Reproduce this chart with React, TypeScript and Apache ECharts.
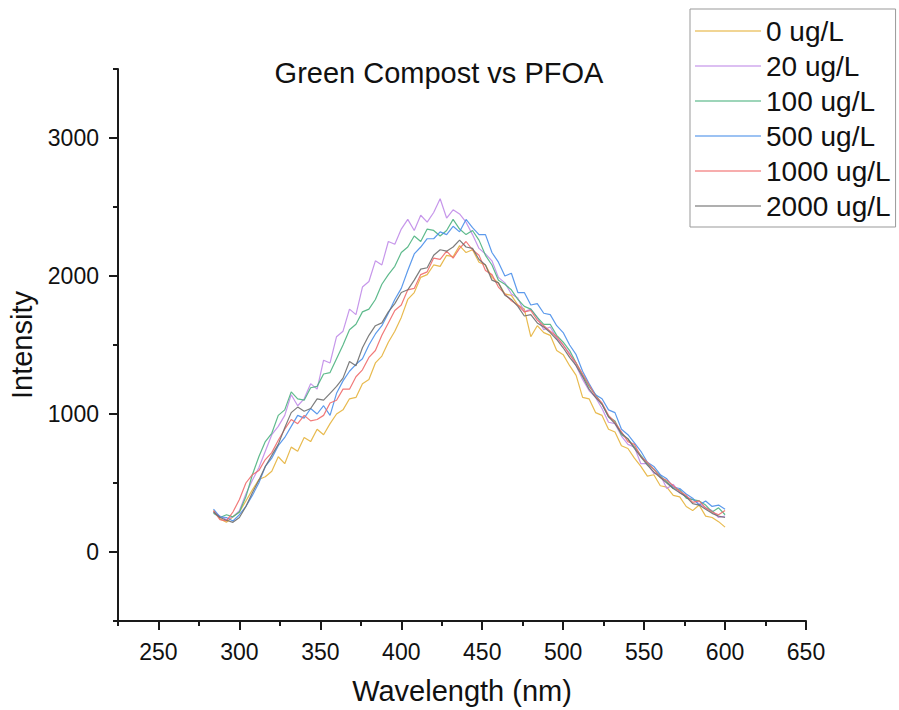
import React, { useEffect, useRef } from "react";
import * as echarts from "echarts";

const FONT = "'Liberation Sans', Arial, sans-serif";

const wavelengths: number[] = [
  284, 288, 292, 296, 300, 304, 308, 312, 316, 320,
  324, 328, 332, 336, 340, 344, 348, 352, 356, 360,
  364, 368, 372, 376, 380, 384, 388, 392, 396, 400,
  404, 408, 412, 416, 420, 424, 428, 432, 436, 440,
  444, 448, 452, 456, 460, 464, 468, 472, 476, 480,
  484, 488, 492, 496, 500, 504, 508, 512, 516, 520,
  524, 528, 532, 536, 540, 544, 548, 552, 556, 560,
  564, 568, 572, 576, 580, 584, 588, 592, 596, 600,
];

const seriesNames: string[] = ["0 ug/L", "20 ug/L", "100 ug/L", "500 ug/L", "1000 ug/L", "2000 ug/L"];
const seriesColors: string[] = ["#E6B33C", "#C08BE8", "#4DB37F", "#4A8FEA", "#F06A6A", "#6E6E6E"];

const conc0: number[] = [
  300, 240, 215, 255, 290, 370, 450, 525, 545, 585,
  690, 640, 760, 730, 830, 800, 890, 850, 930, 1000,
  1030, 1110, 1120, 1220, 1250, 1370, 1420, 1520, 1600, 1700,
  1830, 1880, 1990, 2010, 2080, 2070, 2150, 2140, 2220, 2170,
  2190, 2100, 2080, 1990, 1950, 1870, 1860, 1790, 1760, 1560,
  1640, 1590, 1570, 1460, 1430, 1350, 1280, 1120, 1110, 1010,
  990, 890, 870, 770, 750, 680, 620, 550, 560, 480,
  470, 410, 400, 330, 300, 340, 260, 250, 220, 180,
];
const conc20: number[] = [
  290, 260, 235, 255, 300, 420, 520, 610, 730, 850,
  910, 990, 1140, 1060, 1110, 1220, 1180, 1390, 1370, 1560,
  1600, 1760, 1720, 1920, 1960, 2110, 2080, 2250, 2230, 2340,
  2410, 2330, 2440, 2390, 2460, 2560, 2420, 2480, 2450, 2390,
  2300, 2200, 2160, 2110, 1990, 1950, 1870, 1840, 1740, 1760,
  1700, 1610, 1630, 1550, 1500, 1440, 1350, 1250, 1170, 1120,
  1040, 940, 930, 840, 780, 760, 640, 640, 570, 560,
  460, 490, 430, 400, 380, 350, 320, 300, 250, 260,
];
const conc100: number[] = [
  280, 250, 270, 255, 290, 400, 560, 690, 800, 860,
  990, 1030, 1160, 1110, 1100, 1190, 1200, 1290, 1300, 1400,
  1500, 1610, 1650, 1740, 1760, 1830, 1940, 2010, 2070, 2170,
  2210, 2290, 2250, 2340, 2330, 2290, 2330, 2410, 2340, 2300,
  2330, 2260, 2150, 2080, 1970, 1940, 1900, 1830, 1780, 1760,
  1700, 1650, 1650, 1570, 1520, 1460, 1370, 1280, 1200, 1140,
  1070, 980, 950, 850, 820, 760, 700, 640, 600, 550,
  510, 460, 450, 390, 380, 370, 340, 290, 320, 270,
];
const conc500: number[] = [
  310, 255, 250, 225, 270, 330, 410, 500, 620, 680,
  770, 830, 910, 990, 970, 1040, 1000, 1060, 990, 1150,
  1240, 1310, 1360, 1400, 1500, 1580, 1640, 1730, 1830, 1910,
  2040, 2160, 2210, 2270, 2270, 2320, 2300, 2360, 2320, 2410,
  2350, 2300, 2300, 2170, 2100, 2000, 2020, 1880, 1880, 1790,
  1800, 1730, 1720, 1640, 1590, 1500, 1430, 1310, 1220, 1140,
  1110, 1030, 1010, 890, 850, 790, 730, 650, 620, 560,
  530, 470, 460, 420, 390, 340, 370, 330, 340, 310,
];
const conc1000: number[] = [
  300, 235, 225, 290, 380, 500, 560, 590, 670, 720,
  810, 890, 960, 930, 990, 950, 960, 990, 1080, 1100,
  1180, 1180, 1270, 1320, 1410, 1460, 1570, 1660, 1750, 1790,
  1900, 1910, 2010, 2030, 2130, 2120, 2180, 2130, 2200, 2250,
  2190, 2150, 2040, 2010, 1920, 1870, 1820, 1790, 1740, 1750,
  1680, 1640, 1600, 1560, 1500, 1430, 1370, 1290, 1210, 1130,
  1080, 990, 940, 870, 800, 780, 690, 650, 600, 540,
  520, 480, 440, 410, 360, 370, 320, 290, 270, 300,
];
const conc2000: number[] = [
  290, 250, 230, 215, 250, 330, 430, 520, 620, 700,
  780, 900, 1010, 1050, 1020, 1040, 1110, 1100, 1150, 1200,
  1260, 1380, 1350, 1480, 1570, 1640, 1660, 1740, 1800, 1880,
  1900, 1970, 2050, 2060, 2150, 2190, 2180, 2210, 2260, 2210,
  2200, 2120, 2080, 1970, 1950, 1860, 1830, 1780, 1710, 1720,
  1660, 1630, 1590, 1540, 1480, 1410, 1350, 1270, 1180, 1120,
  1070, 980, 930, 860, 820, 750, 690, 630, 580, 540,
  500, 460, 430, 400, 350, 340, 310, 280, 260, 250,
];

const allSeries: number[][] = [conc0, conc20, conc100, conc500, conc1000, conc2000];

const xMajorTicks: number[] = [250, 300, 350, 400, 450, 500, 550, 600, 650];
const xMinorTicks: number[] = [225, 275, 325, 375, 425, 475, 525, 575, 625];
const yMajorTicks: number[] = [0, 1000, 2000, 3000];
const yMinorTicks: number[] = [-500, 500, 1500, 2500, 3500];

const AXIS_COLOR = "#1a1a1a";
const TEXT_COLOR = "#111111";

export default function App() {
  const ref = useRef<HTMLDivElement>(null);

  useEffect(() => {
    if (!ref.current) return;
    const chart = echarts.init(ref.current, undefined, { renderer: "svg" });
    const lineStyleAxis = { color: AXIS_COLOR, width: 2 };
    const plain = (v: number) => String(v);
    const option: any = {
      animation: false,
      backgroundColor: "#ffffff",
      textStyle: { fontFamily: FONT },
      grid: { left: 118, right: 93, top: 69, bottom: 89, containLabel: false, outerBoundsMode: "none" },
      graphic: [
        {
          type: "text",
          x: 439,
          y: 73,
          style: {
            text: "Green Compost vs PFOA",
            fill: TEXT_COLOR,
            fontSize: 29,
            fontFamily: FONT,
            align: "center",
            verticalAlign: "middle",
          },
        },
      ],
      legend: {
        orient: "vertical",
        left: 690,
        top: 9,
        padding: [8, 5, 7, 5],
        itemGap: 7,
        itemWidth: 66,
        itemHeight: 2,
        icon: "rect",
        borderColor: "#999999",
        borderWidth: 1,
        data: seriesNames,
        itemStyle: { opacity: 0.55 },
        textStyle: { fontSize: 28, color: TEXT_COLOR, fontFamily: FONT },
      },
      xAxis: [
        {
          type: "value",
          min: 225,
          max: 650,
          position: "bottom",
          name: "Wavelength (nm)",
          nameLocation: "middle",
          nameGap: 55,
          nameTextStyle: { fontSize: 29, color: TEXT_COLOR, fontFamily: FONT },
          axisLine: { show: true, onZero: false, lineStyle: lineStyleAxis },
          axisTick: { show: true, length: 9, customValues: xMajorTicks, lineStyle: lineStyleAxis },
          axisLabel: { show: true, customValues: xMajorTicks, formatter: plain, fontSize: 23, color: TEXT_COLOR, margin: 19, fontFamily: FONT },
          splitLine: { show: false },
        },
        {
          type: "value",
          min: 225,
          max: 650,
          position: "bottom",
          axisLine: { show: false, onZero: false },
          axisTick: { show: true, length: 5, customValues: xMinorTicks, lineStyle: lineStyleAxis },
          axisLabel: { show: false },
          splitLine: { show: false },
        },
      ],
      yAxis: [
        {
          type: "value",
          min: -500,
          max: 3500,
          position: "left",
          name: "Intensity",
          nameLocation: "middle",
          nameGap: 70,
          nameTextStyle: { fontSize: 29, color: TEXT_COLOR, fontFamily: FONT },
          axisLine: { show: true, onZero: false, lineStyle: lineStyleAxis },
          axisTick: { show: true, length: 9, customValues: yMajorTicks, lineStyle: lineStyleAxis },
          axisLabel: { show: true, customValues: yMajorTicks, formatter: plain, fontSize: 23, color: TEXT_COLOR, margin: 19, fontFamily: FONT },
          splitLine: { show: false },
        },
        {
          type: "value",
          min: -500,
          max: 3500,
          position: "left",
          axisLine: { show: false, onZero: false },
          axisTick: { show: true, length: 5, customValues: yMinorTicks, lineStyle: lineStyleAxis },
          axisLabel: { show: false },
          splitLine: { show: false },
        },
      ],
      series: allSeries.map((vals, si) => ({
        name: seriesNames[si],
        type: "line",
        xAxisIndex: 0,
        yAxisIndex: 0,
        symbol: "none",
        showSymbol: false,
        color: seriesColors[si],
        lineStyle: { width: 1.2, color: seriesColors[si], opacity: 0.9 },
        data: wavelengths.map((w, i) => [w, vals[i]]),
      })),
    };
    chart.setOption(option);
    return () => {
      chart.dispose();
    };
  }, []);

  return (
    <div
      ref={ref}
      style={{ position: "absolute", left: 0, top: 0, width: 899, height: 710, background: "#fff" }}
    />
  );
}
